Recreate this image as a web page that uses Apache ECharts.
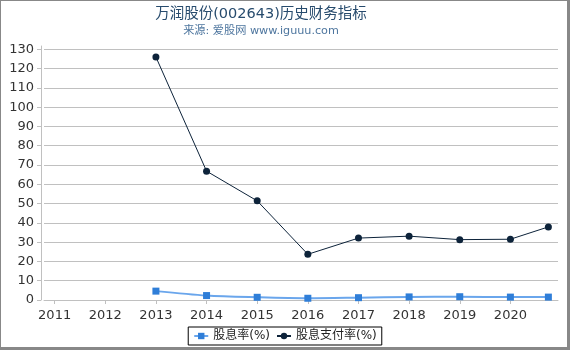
<!DOCTYPE html>
<html><head><meta charset="utf-8">
<script src="https://cdn.jsdelivr.net/npm/echarts@6/dist/echarts.min.js"></script>
<style>html,body{margin:0;padding:0;background:#fff}#c{width:570px;height:350px}</style>
</head><body><div id="c"></div>
<script>
const years = [2013, 2014, 2015, 2016, 2017, 2018, 2019, 2020, 2020.75];
const dividendYield = [4.6, 2.3, 1.4, 0.9, 1.2, 1.6, 1.7, 1.5, 1.5];
const payoutRatio = [126.0, 66.8, 51.4, 23.7, 32.1, 33.1, 31.3, 31.5, 37.9];
const xTicks = [2011, 2012, 2013, 2014, 2015, 2016, 2017, 2018, 2019, 2020];
const yTicks = [0, 10, 20, 30, 40, 50, 60, 70, 80, 90, 100, 110, 120, 130];
const seriesNames = ['股息率(%)', '股息支付率(%)'];
const titleText = '万润股份(002643)历史财务指标';
const subText = '来源: 爱股网 www.iguuu.com';

const FONT = "'DejaVu Sans', 'Noto Sans CJK SC', sans-serif";
const chart = echarts.init(document.getElementById('c'), null, {renderer: 'canvas'});
const pair = (xs, ys) => xs.map((x, i) => [x, ys[i]]);
chart.setOption({
  animation: false,
  backgroundColor: '#fff',
  title: {
    text: titleText, subtext: subText, left: 256, textAlign: 'center', top: 2, itemGap: 4,
    textStyle: {fontFamily: FONT, fontSize: 14.5, fontWeight: 'normal', color: '#274b6d'},
    subtextStyle: {fontFamily: FONT, fontSize: 11.2, color: '#4d759e'}
  },
  graphic: [
    {type: 'rect', shape: {x: 0, y: 0, width: 570, height: 1}, style: {fill: '#888'}, silent: true},
    {type: 'rect', shape: {x: 0, y: 0, width: 1, height: 350}, style: {fill: '#888'}, silent: true},
    {type: 'rect', shape: {x: 567, y: 0, width: 3, height: 350}, style: {fill: '#888'}, silent: true},
    {type: 'rect', shape: {x: 0, y: 347, width: 570, height: 3}, style: {fill: '#888'}, silent: true}
  ],
  legend: {
    data: seriesNames, left: 'center', top: 327, padding: [3, 5],
    borderColor: '#000', borderWidth: 1, itemWidth: 14, itemHeight: 8, itemGap: 6,
    textStyle: {fontFamily: FONT, fontSize: 12, color: '#222'}
  },
  grid: {left: 44, right: 12, top: 46, bottom: 50},
  xAxis: {
    type: 'value', min: 2010.79, max: 2020.94, offset: 4,
    axisLine: {show: true, lineStyle: {color: '#c0c0c0'}},
    axisTick: {show: true, length: 4, customValues: xTicks, lineStyle: {color: '#c0c0c0'}},
    axisLabel: {customValues: xTicks, margin: 5, formatter: v => String(v),
      fontFamily: FONT, fontSize: 13, color: '#333'},
    splitLine: {show: false}
  },
  yAxis: {
    type: 'value', min: 0, max: 131.7, offset: 3,
    axisLine: {show: true, lineStyle: {color: '#c0c0c0'}},
    axisTick: {show: true, length: 4, customValues: yTicks, lineStyle: {color: '#c0c0c0'}},
    axisLabel: {customValues: yTicks, margin: 7, fontFamily: FONT, fontSize: 13, color: '#333'},
    splitLine: {show: true, lineStyle: {color: '#c0c0c0'}}
  },
  series: [
    {name: seriesNames[0], type: 'line', data: pair(years, dividendYield), smooth: 0.3,
      symbol: 'rect', symbolSize: 7, color: '#2f7ed8',
      lineStyle: {width: 2, color: '#6aa6ec'}, itemStyle: {color: '#2f7ed8'}},
    {name: seriesNames[1], type: 'line', data: pair(years, payoutRatio),
      symbol: 'circle', symbolSize: 7, color: '#0d233a',
      lineStyle: {width: 1, color: '#0d233a'}, itemStyle: {color: '#0d233a'}}
  ]
});
</script></body></html>
